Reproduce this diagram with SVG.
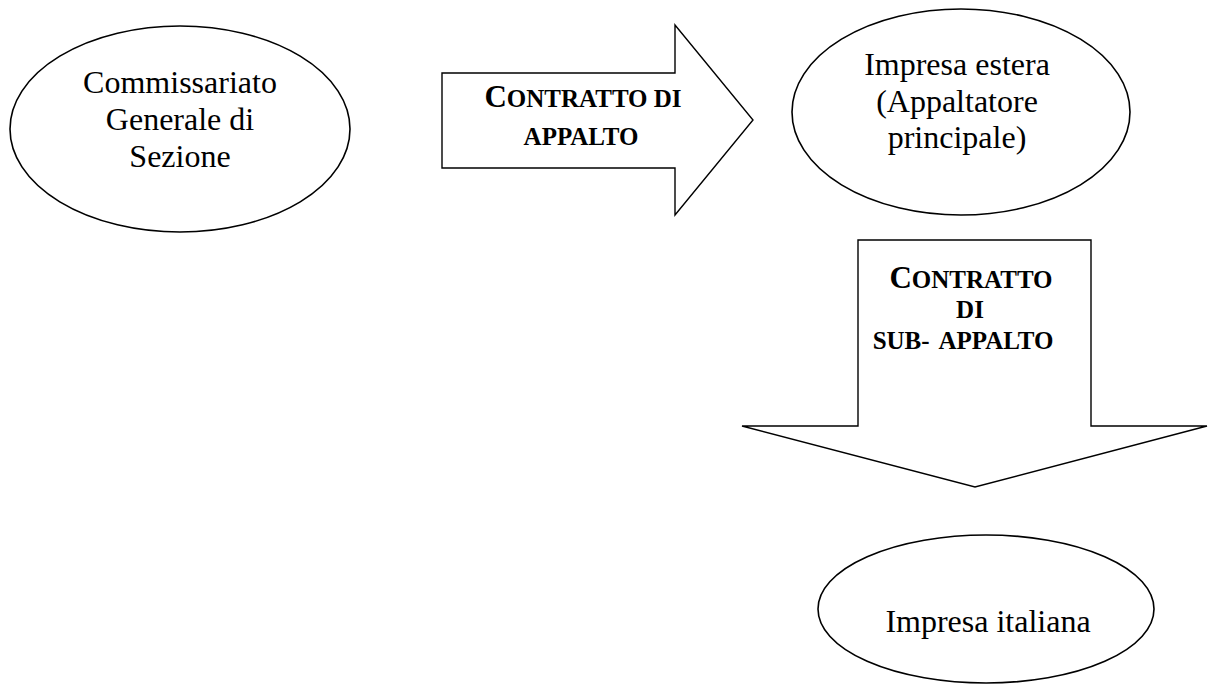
<svg xmlns="http://www.w3.org/2000/svg" width="1209" height="691" viewBox="0 0 1209 691">
<style>
.node { fill: #ffffff; stroke: #000000; stroke-width: 1.6; }
.arrow { fill: #ffffff; stroke: #000000; stroke-width: 1.4; stroke-linejoin: miter; }
.lbl { font-family: "Liberation Serif", "Times New Roman", serif; font-size: 32px; fill: #000000; text-anchor: middle; }
.sc { font-family: "Liberation Serif", "Times New Roman", serif; font-weight: bold; font-size: 25px; fill: #000000; text-anchor: middle; }
.cap { font-size: 31px; }
</style>
<rect x="0" y="0" width="1209" height="691" fill="#ffffff"/>
<g id="connectors">
  <g id="arrow-appalto">
    <polygon class="arrow" points="442,73 675,73 675,25 753,120 675,215 675,168 442,168"/>
    <text class="sc" x="583" y="107"><tspan class="cap">C</tspan>ONTRATTO DI</text>
    <text class="sc" x="581" y="145">APPALTO</text>
  </g>
  <g id="arrow-subappalto">
    <polygon class="arrow" points="858,240 1091,240 1091,426 1207,426 975,487 742,426 858,426"/>
    <text class="sc" x="971" y="288"><tspan class="cap">C</tspan>ONTRATTO</text>
    <text class="sc" x="970" y="318">DI</text>
    <text class="sc" x="963" y="349" word-spacing="4">SUB- APPALTO</text>
  </g>
</g>
<g id="node-commissariato">
  <ellipse class="node" cx="180" cy="129" rx="170" ry="103"/>
  <text class="lbl" x="180" y="93">Commissariato</text>
  <text class="lbl" x="180" y="130">Generale di</text>
  <text class="lbl" x="180" y="167">Sezione</text>
</g>
<g id="node-impresa-estera">
  <ellipse class="node" cx="961" cy="112" rx="169" ry="103"/>
  <text class="lbl" x="957" y="75">Impresa estera</text>
  <text class="lbl" x="957" y="112">(Appaltatore</text>
  <text class="lbl" x="957" y="148">principale)</text>
</g>
<g id="node-impresa-italiana">
  <ellipse class="node" cx="986" cy="609" rx="168" ry="74"/>
  <text class="lbl" x="988" y="632">Impresa italiana</text>
</g>
</svg>
